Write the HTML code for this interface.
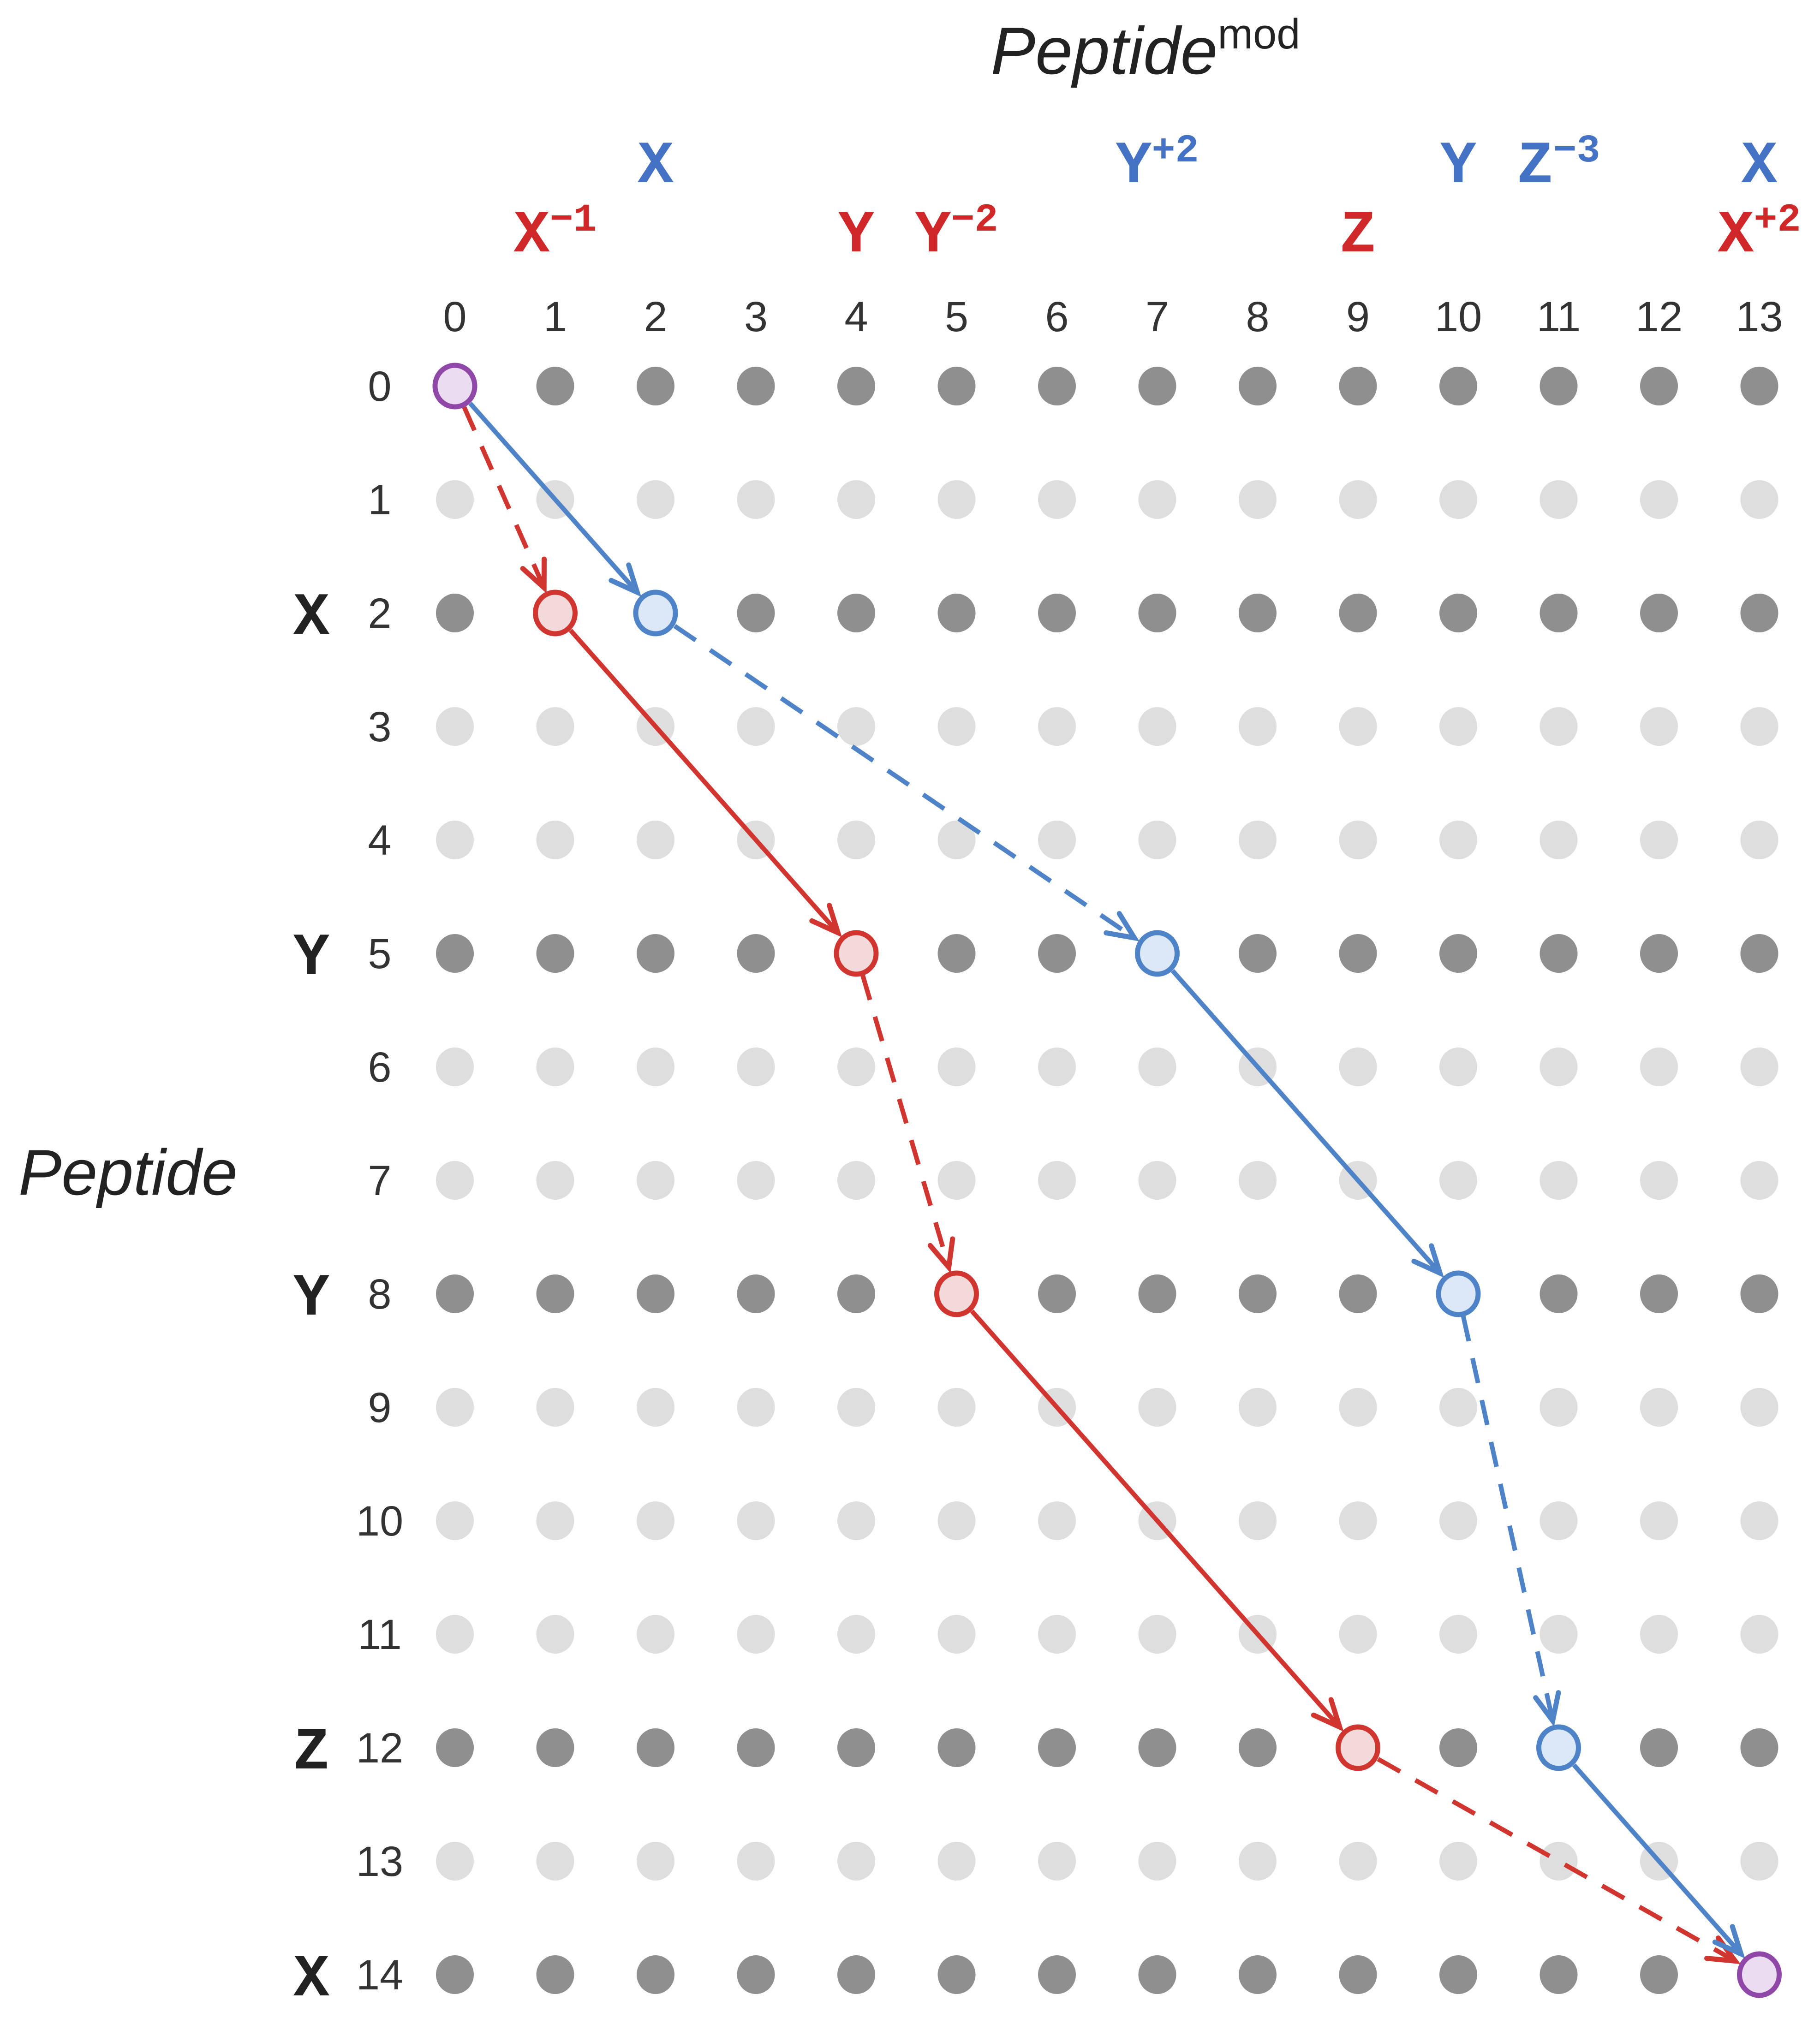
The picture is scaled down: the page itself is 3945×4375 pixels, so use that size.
<!DOCTYPE html>
<html><head><meta charset="utf-8">
<style>html,body{margin:0;padding:0;background:#fff}svg{display:block}</style>
</head><body>
<svg id="chart" xmlns="http://www.w3.org/2000/svg" width="3945" height="4375" viewBox="0 0 3945 4375">
<text x="2483" y="160" text-anchor="middle" font-family="Liberation Sans, sans-serif" font-style="italic" font-size="145" fill="#222">Peptide<tspan font-style="normal" font-size="92" dy="-55">mod</tspan></text>
<text x="40" y="2590" font-family="Liberation Sans, sans-serif" font-style="italic" font-size="140" fill="#222">Peptide</text>
<g id="dots"></g><g id="labels"></g><g id="paths"></g><g id="nodes"></g>
</svg>
<script>
const cols = [0,1,2,3,4,5,6,7,8,9,10,11,12,13];
const rows = [0,1,2,3,4,5,6,7,8,9,10,11,12,13,14];
const rowLetters = {2:'X',5:'Y',8:'Y',12:'Z',14:'X'};
const blueTop = [[2,'X',''],[7,'Y','+2'],[10,'Y',''],[11,'Z','−3'],[13,'X','']];
const redTop = [[1,'X','−1'],[4,'Y',''],[5,'Y','−2'],[9,'Z',''],[13,'X','+2']];
const redPath = [[0,0],[1,2],[4,5],[5,8],[9,12],[13,14]];
const redDash = [true,false,true,false,true];
const bluePath = [[0,0],[2,2],[7,5],[10,8],[11,12],[13,14]];
const blueDash = [false,true,false,true,false];

const NS='http://www.w3.org/2000/svg';
const colX=c=>986+c*217.5, rowY=r=>837+r*246;
function mk(t,a,p){const e=document.createElementNS(NS,t);for(const k in a)e.setAttribute(k,a[k]);p.appendChild(e);return e;}
const gDots=document.getElementById('dots'),gLabels=document.getElementById('labels'),gPaths=document.getElementById('paths'),gNodes=document.getElementById('nodes');
const MONO='Liberation Mono, DejaVu Sans Mono, monospace';
rows.forEach(r=>{
  const dark = rowLetters[r]!==undefined || r===0;
  cols.forEach(c=>{
    const d=mk('ellipse',{cx:colX(c),cy:rowY(r),rx:41,ry:42,fill:dark?'#8f8f8f':'#dedede'},gDots);
    
    
  });
  const t=mk('text',{x:823,y:rowY(r)+32,'text-anchor':'middle','font-family':'Liberation Sans, sans-serif','font-size':'92',fill:'#333'},gLabels);
  t.textContent=r;
  
  
  if(rowLetters[r]){
    const l=mk('text',{x:675,y:rowY(r)+45,'text-anchor':'middle','font-family':MONO,'font-weight':'bold','font-size':'130',fill:'#222'},gLabels);
    l.textContent=rowLetters[r];
    
    
  }
});
cols.forEach(c=>{
  const t=mk('text',{x:colX(c),y:718,'text-anchor':'middle','font-family':'Liberation Sans, sans-serif','font-size':'92',fill:'#333'},gLabels);
  t.textContent=c;
  
  
});
function drawTop(list,y,col,name){list.forEach(([c,ch,sup])=>{
  const t=mk('text',{x:colX(c),y:y,'text-anchor':'middle','font-family':MONO,'font-weight':'bold','font-size':'130',fill:col},gLabels);
  t.textContent=ch;
  if(sup){const s=mk('tspan',{'font-size':'85',dy:'-45'},t);s.textContent=sup;}
  
  
});}
drawTop(blueTop,395,'#4472c4','top-blue-label');
drawTop(redTop,545,'#d02828','top-red-label');
function drawPath(pts,dash,col,name){
  for(let i=0;i<pts.length-1;i++){
    const x1=colX(pts[i][0]),y1=rowY(pts[i][1]),x2=colX(pts[i+1][0]),y2=rowY(pts[i+1][1]);
    const dx=x2-x1,dy=y2-y1,L=Math.hypot(dx,dy),ux=dx/L,uy=dy/L;
    const sx=x1+ux*50,sy=y1+uy*50,ex=x2-ux*60,ey=y2-uy*60;
    const a={x1:sx,y1:sy,x2:ex,y2:ey,stroke:col,'stroke-width':10};
    if(dash[i])a['stroke-dasharray']='55 38';
    const ln=mk('line',a,gPaths);
    
    
    const h=62,w=0.42;
    const p1x=ex-h*(ux*Math.cos(w)-uy*Math.sin(w)),p1y=ey-h*(uy*Math.cos(w)+ux*Math.sin(w));
    const p2x=ex-h*(ux*Math.cos(w)+uy*Math.sin(w)),p2y=ey-h*(uy*Math.cos(w)-ux*Math.sin(w));
    const ar=mk('polyline',{points:`${p1x},${p1y} ${ex},${ey} ${p2x},${p2y}`,fill:'none',stroke:col,'stroke-width':11,'stroke-linecap':'round','stroke-linejoin':'miter'},gPaths);
    
    
  }
}
drawPath(redPath,redDash,'#d03530','red-path');
drawPath(bluePath,blueDash,'#4f83c8','blue-path');
function drawNode(c,r,fill,stroke,name){
  const n=mk('ellipse',{cx:colX(c),cy:rowY(r),rx:43,ry:45,fill:fill,stroke:stroke,'stroke-width':11},gNodes);
  
  
}
redPath.slice(1,-1).forEach(p=>drawNode(p[0],p[1],'#f2dada','#d03530','red-node'));
bluePath.slice(1,-1).forEach(p=>drawNode(p[0],p[1],'#dae8f8','#4f83c8','blue-node'));
drawNode(redPath[0][0],redPath[0][1],'#ecdcf2','#9048a8','start-node');
drawNode(redPath[redPath.length-1][0],redPath[redPath.length-1][1],'#ecdcf2','#9048a8','end-node');
</script>
</body></html>
